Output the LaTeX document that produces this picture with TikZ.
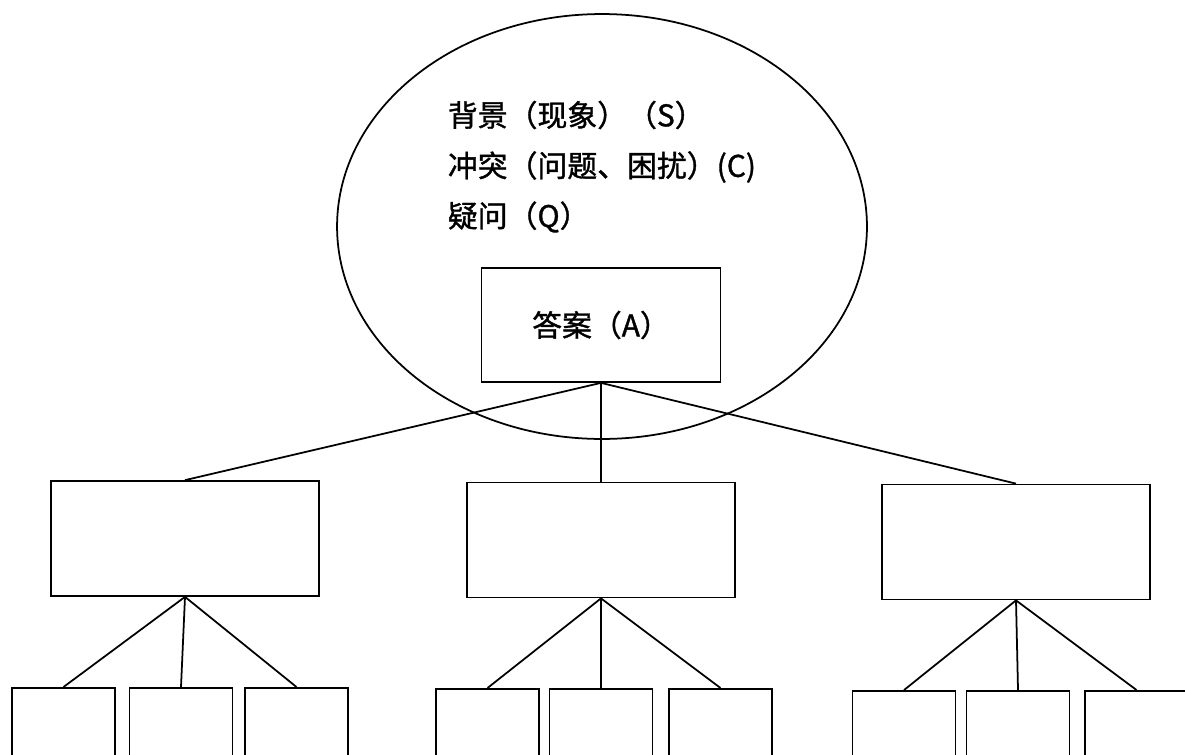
\documentclass[tikz,border=0pt]{standalone}
\usepackage{fontspec}
\setmainfont{Liberation Serif}
\newfontfamily\cjk[FakeBold=1.2]{Noto Sans CJK SC}
\usetikzlibrary{shapes.geometric,positioning}
\tikzset{
  scabox/.style={draw, line width=1pt, inner sep=0pt},
  midbox/.style={scabox, minimum width=5.36cm, minimum height=2.3cm},
  leafbox/.style={scabox, anchor=north, minimum width=2.06cm, minimum height=2.6cm},
  scatext/.style={anchor=west, inner sep=0pt, font=\fontsize{17}{20}\selectfont\cjk}
}

\begin{document}
\begin{tikzpicture}[x=0.02cm, y=-0.02cm, line width=1pt]
    \useasboundingbox (0,0) rectangle (1185,754);
    \clip (0,0) rectangle (1185,754);

    % situation / complication / question
    \node(bg)[ellipse, draw, line width=1pt, minimum width=10.6cm, minimum height=8.5cm] at (602,226.5){};
    \node(s)[scatext] at (447,115){背景（现象）（S）};
    \node(c)[scatext] at (447,167){冲突（问题、困扰）(C)};
    \node(q)[scatext] at (447,217){疑问（Q）};
    \node(ans)[scabox, minimum width=4.78cm, minimum height=2.28cm,
      font=\fontsize{17}{20}\selectfont\cjk] at (601,325){答案（A）};

    % second level
    \node(m1)[midbox] at (185,538.5){};
    \node(m2)[midbox] at (601,540){};
    \node(m3)[midbox] at (1016,542){};
    \draw (ans.south) -- (m1.north);
    \draw (ans.south) -- (m2.north);
    \draw (ans.south) -- (m3.north);

    % third level
    \node(l11)[leafbox] at (63.5,687){};
    \node(l12)[leafbox] at (181,687){};
    \node(l13)[leafbox] at (296.5,687){};
    \node(l21)[leafbox] at (487.5,688){};
    \node(l22)[leafbox] at (601,688){};
    \node(l23)[leafbox] at (720.5,688){};
    \node(l31)[leafbox] at (904,690){};
    \node(l32)[leafbox] at (1018,690){};
    \node(l33)[leafbox] at (1136.5,690){};
    \foreach \m in {1,2,3}{
      \foreach \l in {1,2,3}{
        \draw (m\m.south) -- (l\m\l.north);
      }
    }
\end{tikzpicture}
\end{document}
